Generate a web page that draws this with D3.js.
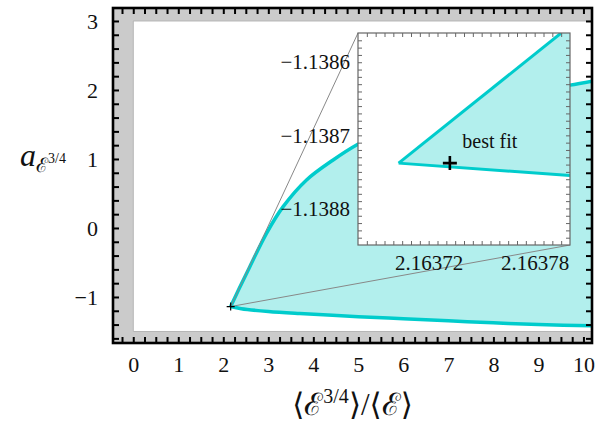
<!DOCTYPE html>
<html>
<head>
<meta charset="utf-8">
<script src="https://cdnjs.cloudflare.com/ajax/libs/d3/7.8.5/d3.min.js"></script>
<style>
  body { margin: 0; background: #fff; }
  text { font-family: "Liberation Serif", "DejaVu Serif", serif; fill: #111; }
</style>
</head>
<body>
<svg id="chart" width="597" height="429"></svg>
<script>
// main panel: boundary of the allowed region
const upperX = [2.163703, 2.35, 2.589, 2.96, 3.329, 3.849, 4.44, 4.96, 5.5, 6, 7, 8, 9, 9.7, 10.3];
const upperY = [-1.138738, -0.88, -0.561, -0.077, 0.309, 0.696, 0.986, 1.203, 1.37, 1.52, 1.73, 1.88, 2.0, 2.07, 2.14];
const lowerX = [2.163703, 2.4, 3, 3.7, 5, 6, 7, 8, 9, 10.3];
const lowerY = [-1.138738, -1.17, -1.21, -1.24, -1.285, -1.315, -1.345, -1.375, -1.40, -1.42];

// excluded (gray) regions of the main panel
const excludedXBelow = 0;
const excludedYAbove = 3;
const excludedYBelow = -1.5;

// best fit point
const bestFitX = 2.163732;
const bestFitY = -1.138738;

// inset (zoom) boundary lines
const insetUpperX = [2.163703, 2.163795];
const insetUpperY = [-1.138738, -1.13856];
const insetLowerX = [2.163703, 2.16380];
const insetLowerY = [-1.138738, -1.138755];

const xTickLabels = [0, 1, 2, 3, 4, 5, 6, 7, 8, 9, 10];
const yTickLabels = [-1, 0, 1, 2, 3];
const insetXTickLabels = [2.16372, 2.16378];
const insetYTickLabels = [-1.1388, -1.1387, -1.1386];

const svg = d3.select("#chart");
const cyan = "#00cccc";
const cyanFill = "#b2efed";

const x = d3.scaleLinear().domain([-0.45, 10.19]).range([113, 592]);
const y = d3.scaleLinear().domain([-1.667, 3.188]).range([343, 8]);

svg.append("rect").attr("width", 597).attr("height", 429).attr("fill", "#fff");

svg.append("clipPath").attr("id", "mainClip")
    .append("rect")
    .attr("x", x.range()[0]).attr("y", y.range()[1])
    .attr("width", x.range()[1] - x.range()[0])
    .attr("height", y.range()[0] - y.range()[1]);

const main = svg.append("g").attr("clip-path", "url(#mainClip)");

// gray bands
const bands = [
    [x.domain()[0], excludedXBelow, y.domain()[0], y.domain()[1]],
    [x.domain()[0], x.domain()[1], excludedYAbove, y.domain()[1]],
    [x.domain()[0], x.domain()[1], y.domain()[0], excludedYBelow]
];
main.selectAll("rect.band")
    .data(bands)
    .enter()
    .append("rect")
    .attr("class", "band")
    .attr("x", d => x(d[0]))
    .attr("y", d => y(d[3]))
    .attr("width", d => x(d[1]) - x(d[0]))
    .attr("height", d => y(d[2]) - y(d[3]))
    .attr("fill", "#cbcbcb");
main.append("line")
    .attr("x1", x(excludedXBelow)).attr("x2", x(excludedXBelow))
    .attr("y1", y(excludedYAbove)).attr("y2", y(excludedYBelow))
    .attr("stroke", "#b4b4b4");
[excludedYAbove, excludedYBelow].forEach(function (v) {
    main.append("line")
        .attr("x1", x(excludedXBelow)).attr("x2", x.range()[1])
        .attr("y1", y(v)).attr("y2", y(v))
        .attr("stroke", "#b4b4b4");
});

// allowed region
let upper = upperX.map((d, i) => [d, upperY[i]]);
let lower = lowerX.map((d, i) => [d, lowerY[i]]);
let line = d3.line().x(d => x(d[0])).y(d => y(d[1])).curve(d3.curveCatmullRom.alpha(0.5));

main.append("path")
    .attr("d", line(upper) + "L" + line(lower.slice().reverse()).slice(1))
    .attr("fill", cyanFill);
[upper, lower].forEach(function (pts) {
    main.append("path")
        .attr("d", line(pts))
        .attr("fill", "none")
        .attr("stroke", cyan)
        .attr("stroke-width", 3.5);
});

// inset scales
const ix = d3.scaleLinear().domain([2.16368, 2.16380]).range([358, 570]);
const iy = d3.scaleLinear().domain([-1.13885, -1.13856]).range([245, 33]);

// connectors from the zoom box to the inset corners
main.append("line")
    .attr("x1", x(ix.domain()[0])).attr("y1", y(iy.domain()[1]))
    .attr("x2", ix.range()[0]).attr("y2", iy.range()[1])
    .attr("stroke", "#888").attr("stroke-width", 1);
main.append("line")
    .attr("x1", x(ix.domain()[1])).attr("y1", y(iy.domain()[0]))
    .attr("x2", ix.range()[1]).attr("y2", iy.range()[0])
    .attr("stroke", "#888").attr("stroke-width", 1);

// small best-fit marker in main panel
main.append("path")
    .attr("d", "M" + (x(bestFitX) - 4) + "," + y(bestFitY) + "h8M" + x(bestFitX) + "," + (y(bestFitY) - 4) + "v8")
    .attr("stroke", "#000").attr("stroke-width", 1.2);

// main frame and ticks
function styleAxis(g) {
    g.select(".domain").remove();
    g.selectAll(".tick line").attr("stroke", "#000").attr("stroke-width", 2);
    g.selectAll(".tick text").attr("font-size", 22).attr("font-family", null);
}
const xTicks = d3.range(-1, 42).map(i => i / 4);
const yTicks = d3.range(-8, 16).map(i => i / 5);
const labelX = d => xTickLabels.includes(d) ? d : "";
const labelY = d => {
    let m = yTickLabels.find(v => Math.abs(v - d) < 1e-9);
    return m === undefined ? "" : (m < 0 ? "\u2212" + Math.abs(m) : m);
};

svg.append("g").attr("transform", "translate(0," + y.range()[0] + ")")
    .call(d3.axisBottom(x).tickValues(xTicks.filter(d => d > x.domain()[0] && d < x.domain()[1]))
        .tickSize(-6).tickSizeOuter(0).tickPadding(13).tickFormat(labelX))
    .call(styleAxis);
svg.append("g").attr("transform", "translate(0," + y.range()[1] + ")")
    .call(d3.axisTop(x).tickValues(xTicks.filter(d => d > x.domain()[0] && d < x.domain()[1]))
        .tickSize(-6).tickSizeOuter(0).tickFormat(""))
    .call(styleAxis);
svg.append("g").attr("transform", "translate(" + x.range()[0] + ",0)")
    .call(d3.axisLeft(y).tickValues(yTicks.filter(d => d > y.domain()[0] && d < y.domain()[1]))
        .tickSize(-6).tickSizeOuter(0).tickPadding(15).tickFormat(labelY))
    .call(styleAxis);
svg.append("g").attr("transform", "translate(" + x.range()[1] + ",0)")
    .call(d3.axisRight(y).tickValues(yTicks.filter(d => d > y.domain()[0] && d < y.domain()[1]))
        .tickSize(-6).tickSizeOuter(0).tickFormat(""))
    .call(styleAxis);

svg.append("rect")
    .attr("x", x.range()[0]).attr("y", y.range()[1])
    .attr("width", x.range()[1] - x.range()[0])
    .attr("height", y.range()[0] - y.range()[1])
    .attr("fill", "none").attr("stroke", "#000").attr("stroke-width", 2.6);

// inset
const inset = svg.append("g");
inset.append("clipPath").attr("id", "insetClip")
    .append("rect")
    .attr("x", ix.range()[0]).attr("y", iy.range()[1])
    .attr("width", ix.range()[1] - ix.range()[0])
    .attr("height", iy.range()[0] - iy.range()[1]);
inset.append("rect")
    .attr("x", ix.range()[0]).attr("y", iy.range()[1])
    .attr("width", ix.range()[1] - ix.range()[0])
    .attr("height", iy.range()[0] - iy.range()[1])
    .attr("fill", "#fff");

const inner = inset.append("g").attr("clip-path", "url(#insetClip)");
let iUpper = insetUpperX.map((d, i) => [d, insetUpperY[i]]);
let iLower = insetLowerX.map((d, i) => [d, insetLowerY[i]]);
let iline = d3.line().x(d => ix(d[0])).y(d => iy(d[1]));
let corner = [ix.domain()[1], iy.domain()[1]];
inner.append("path")
    .attr("d", iline(iUpper.concat([corner], iLower.slice().reverse())) + "Z")
    .attr("fill", cyanFill);
[iUpper, iLower].forEach(function (pts) {
    inner.append("path")
        .attr("d", iline(pts))
        .attr("fill", "none")
        .attr("stroke", cyan)
        .attr("stroke-width", 3);
});

inset.append("text")
    .attr("x", ix(bestFitX) + 40).attr("y", iy(bestFitY) - 15)
    .attr("text-anchor", "middle")
    .attr("font-size", 20)
    .text("best fit");
inset.append("path")
    .attr("d", "M" + (ix(bestFitX) - 7) + "," + iy(bestFitY) + "h14M" + ix(bestFitX) + "," + (iy(bestFitY) - 7) + "v14")
    .attr("stroke", "#000").attr("stroke-width", 2.6);

function styleInset(g) {
    g.select(".domain").remove();
    g.selectAll(".tick line").attr("stroke", "#666").attr("stroke-width", 1);
    g.selectAll(".tick text").attr("font-size", 21).attr("font-family", null);
}
const ixTicks = d3.range(1, 24).map(i => 2.16368 + i * 0.000005);
const iyTicks = d3.range(1, 29).map(i => -1.13885 + i * 0.00001);
const labelIX = d => {
    let m = insetXTickLabels.find(v => Math.abs(v - d) < 1e-9);
    return m === undefined ? "" : m.toFixed(5);
};
const labelIY = d => {
    let m = insetYTickLabels.find(v => Math.abs(v - d) < 1e-9);
    return m === undefined ? "" : "\u2212" + Math.abs(m).toFixed(4);
};
inset.append("g").attr("transform", "translate(0," + iy.range()[0] + ")")
    .call(d3.axisBottom(ix).tickValues(ixTicks).tickSize(-4).tickSizeOuter(0).tickPadding(10).tickFormat(labelIX))
    .call(styleInset);
inset.append("g").attr("transform", "translate(0," + iy.range()[1] + ")")
    .call(d3.axisTop(ix).tickValues(ixTicks).tickSize(-4).tickSizeOuter(0).tickFormat(""))
    .call(styleInset);
inset.append("g").attr("transform", "translate(" + ix.range()[0] + ",0)")
    .call(d3.axisLeft(iy).tickValues(iyTicks).tickSize(-4).tickSizeOuter(0).tickPadding(8).tickFormat(labelIY))
    .call(styleInset);
inset.append("g").attr("transform", "translate(" + ix.range()[1] + ",0)")
    .call(d3.axisRight(iy).tickValues(iyTicks).tickSize(-4).tickSizeOuter(0).tickFormat(""))
    .call(styleInset);
inset.append("rect")
    .attr("x", ix.range()[0]).attr("y", iy.range()[1])
    .attr("width", ix.range()[1] - ix.range()[0])
    .attr("height", iy.range()[0] - iy.range()[1])
    .attr("fill", "none").attr("stroke", "#666").attr("stroke-width", 1.2);

// axis titles
const xt = svg.append("text")
    .attr("x", (x.range()[0] + x.range()[1]) / 2).attr("y", 415)
    .attr("text-anchor", "middle")
    .attr("font-size", 31);
xt.append("tspan").text("\u27E8\u2130");
xt.append("tspan").attr("dy", -12).attr("font-size", 20).text("3/4");
xt.append("tspan").attr("dy", 12).text("\u27E9/\u27E8\u2130\u27E9");

const yt = svg.append("text")
    .attr("x", 20).attr("y", 166)
    .attr("font-size", 32);
yt.append("tspan").attr("font-style", "italic").text("a");
yt.append("tspan").attr("dy", 6).attr("font-size", 20).text("\u2130");
yt.append("tspan").attr("dy", -9).attr("font-size", 14).text("3/4");
</script>
</body>
</html>
